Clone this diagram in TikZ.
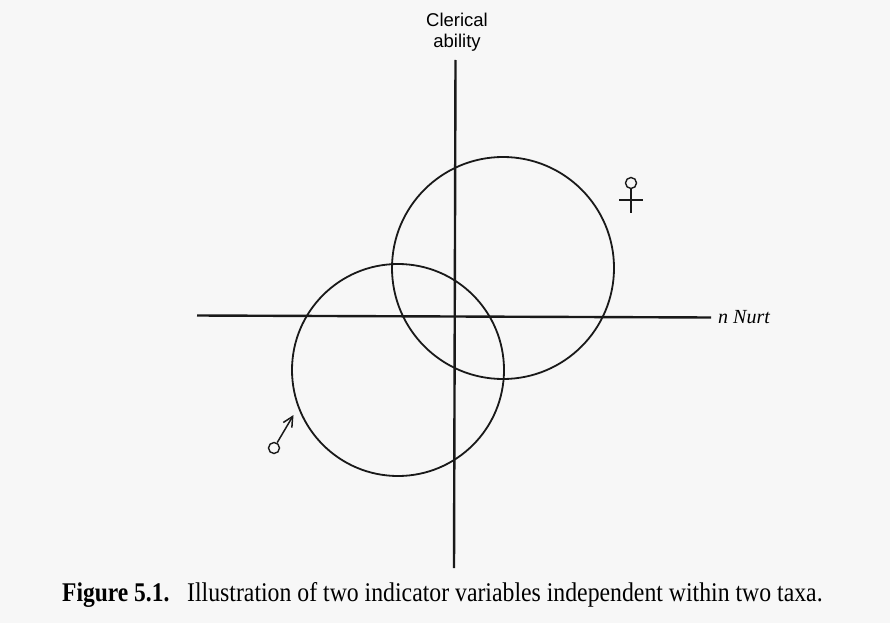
\documentclass[tikz,border=0pt]{standalone}
\usepackage{fontspec}
\setmainfont{Liberation Serif}
\newfontfamily\labsans{Liberation Sans}
\usetikzlibrary{arrows.meta}
\tikzset{
  axisline/.style={line width=2.4pt, draw=black!90},
  bigcirc/.style={circle, draw=black!90, line width=1.8pt, minimum size=#1, inner sep=0pt},
  sexcirc/.style={circle, draw=black!90, line width=1.4pt, minimum size=11pt, inner sep=0pt},
  sexline/.style={line width=1.5pt, draw=black!90},
}
\begin{document}
\begin{tikzpicture}[x=1pt,y=-1pt]
\fill[black!3] (0,0) rectangle (890,623);
\useasboundingbox (0,0) rectangle (890,623);
% axes
\coordinate (vtop) at (455.5,60);
\coordinate (vbot) at (454,568);
\coordinate (hleft) at (197,315.5);
\coordinate (hright) at (711,317.5);
\draw[axisline] (vtop) -- (vbot);
\draw[axisline] (hleft) -- (hright);
% circles
\node[bigcirc=222pt] (upper) at (503,268) {};
\node[bigcirc=212pt] (lower) at (398,370) {};
% labels
\node[font=\labsans\fontsize{18.5}{21}\selectfont, align=center, anchor=north, inner sep=0pt] (yl) at (457,13) {Clerical\\ability};
\node[font=\itshape\fontsize{20}{22}\selectfont, anchor=base west, inner sep=0pt] (xl) at (718,323) {n Nurt};
% female symbol
\node[sexcirc] (fem) at (631,183) {};
\coordinate (femtail) at (631,213);
\coordinate (fembarL) at (619,200);
\coordinate (fembarR) at (643,200);
\draw[sexline] (fem.south) -- (femtail);
\draw[sexline] (fembarL) -- (fembarR);
% male symbol
\node[sexcirc] (male) at (274,448) {};
\coordinate (maletip) at (293.5,415);
\draw[sexline, -{Straight Barb[length=10pt,width=10pt,line width=1.5pt]}] (male) -- (maletip);
% caption
\node[anchor=base west, inner sep=0pt] (capb) at (62,601) {\scalebox{0.87}[1]{\fontsize{27}{30}\selectfont\bfseries Figure 5.1.}};
\node[anchor=base west, inner sep=0pt] (capt) at (187,601) {\scalebox{0.88}[1]{\fontsize{27}{30}\selectfont Illustration of two indicator variables independent within two taxa.}};
\end{tikzpicture}
\end{document}
